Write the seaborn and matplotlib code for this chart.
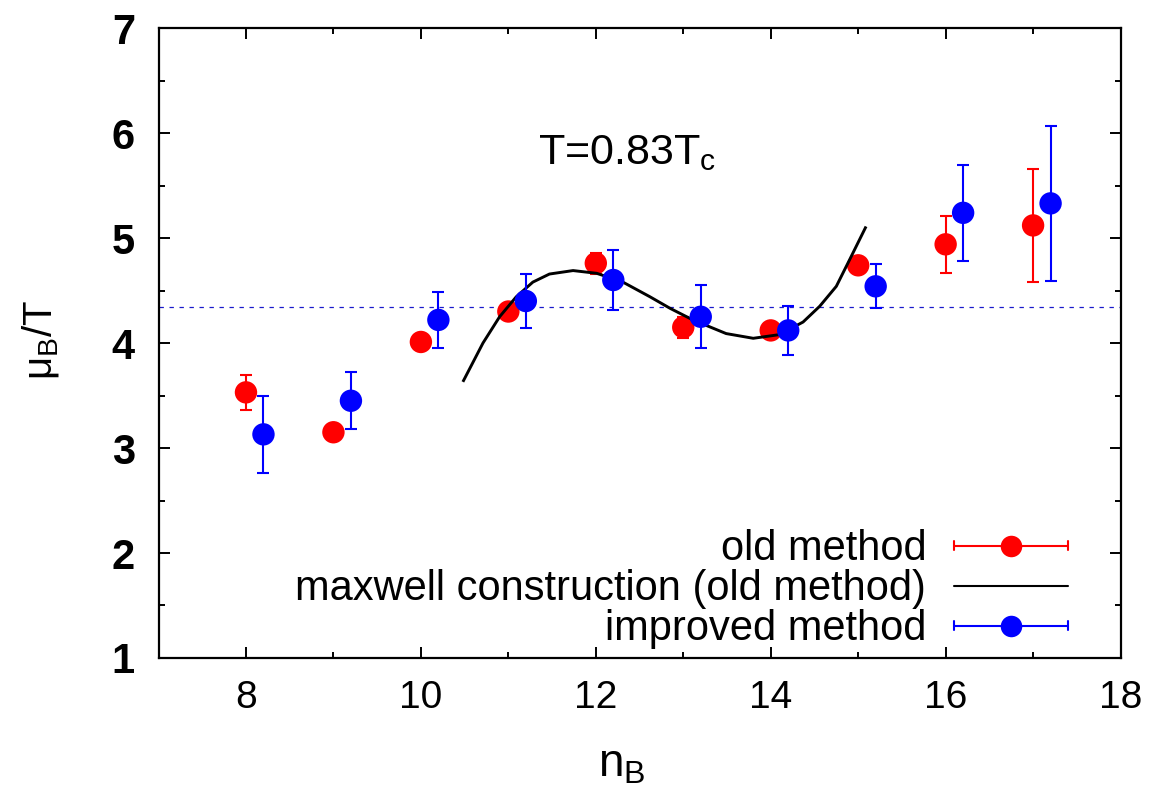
import numpy as np
import pandas as pd
import matplotlib
matplotlib.use("Agg")
import matplotlib.pyplot as plt
import seaborn as sns
from matplotlib.lines import Line2D
from matplotlib.legend_handler import HandlerBase

# ---------------- data ----------------
old_x = [8, 9, 10, 11, 12, 13, 14, 15, 16, 17]
old_y = [3.53, 3.15, 4.01, 4.30, 4.76, 4.15, 4.12, 4.74, 4.94, 5.12]
old_err = [0.17, 0.03, 0.03, 0.04, 0.10, 0.10, 0.04, 0.04, 0.27, 0.54]

imp_x = [8.2, 9.2, 10.2, 11.2, 12.2, 13.2, 14.2, 15.2, 16.2, 17.2]
imp_y = [3.13, 3.45, 4.22, 4.40, 4.60, 4.25, 4.12, 4.54, 5.24, 5.33]
imp_err = [0.37, 0.27, 0.27, 0.26, 0.29, 0.30, 0.23, 0.21, 0.46, 0.74]

curve_x = [10.48, 10.71, 10.90, 11.09, 11.28, 11.47, 11.74, 12.01, 12.31,
           12.62, 12.85, 13.11, 13.49, 13.80, 14.10, 14.37, 14.56, 14.75,
           14.90, 15.09]
curve_y = [3.63, 4.00, 4.25, 4.44, 4.58, 4.657, 4.69, 4.664, 4.58,
           4.44, 4.33, 4.22, 4.09, 4.045, 4.08, 4.20, 4.35, 4.54,
           4.79, 5.11]

maxwell_level = 4.34
label_text = r"T=0.83T$_\mathregular{c}$"
legend_labels = ["old method", "maxwell construction (old method)", "improved method"]
x_ticks = [8, 10, 12, 14, 16, 18]
y_ticks = [1, 2, 3, 4, 5, 6, 7]

# ---------------- style ----------------
sns.set_theme(style="ticks")
plt.rcParams["font.family"] = ["Liberation Sans", "DejaVu Sans"]
plt.rcParams["mathtext.fontset"] = "custom"
plt.rcParams["mathtext.rm"] = "Liberation Sans"
plt.rcParams["mathtext.it"] = "Liberation Sans:italic"
for k in ["text.color", "axes.labelcolor", "xtick.color", "ytick.color",
          "axes.edgecolor"]:
    plt.rcParams[k] = "black"

RED = "#ff0000"
BLUE = "#0000ff"

fig = plt.figure(figsize=(11.52, 7.92), dpi=100)
ax = fig.add_axes([0.1376, 0.1692, 0.9727 - 0.1376, 0.9646 - 0.1692])

df_old = pd.DataFrame({"n": old_x, "mu": old_y, "err": old_err})
df_imp = pd.DataFrame({"n": imp_x, "mu": imp_y, "err": imp_err})
df_curve = pd.DataFrame({"n": curve_x, "mu": curve_y})

ax.axhline(maxwell_level, color="#1a1acc", lw=0.9, ls=(0, (3.5, 4.5)), zorder=1)

ax.errorbar(df_old["n"], df_old["mu"], yerr=df_old["err"], fmt="none",
            ecolor=RED, elinewidth=1.5, capsize=4.5, capthick=1.5, zorder=2)
sns.scatterplot(data=df_old, x="n", y="mu", ax=ax, color=RED, s=260,
                edgecolor="none", linewidth=0, zorder=3, legend=False)
sns.lineplot(data=df_curve, x="n", y="mu", ax=ax, color="black", lw=2.1,
             sort=False, estimator=None, zorder=4, legend=False,
             solid_joinstyle="round", solid_capstyle="butt")
ax.errorbar(df_imp["n"], df_imp["mu"], yerr=df_imp["err"], fmt="none",
            ecolor=BLUE, elinewidth=1.5, capsize=4.5, capthick=1.5, zorder=5)
sns.scatterplot(data=df_imp, x="n", y="mu", ax=ax, color=BLUE, s=260,
                edgecolor="none", linewidth=0, zorder=6, legend=False)

ax.set_xlim(7, 18)
ax.set_ylim(1, 7)
ax.set_xticks(x_ticks)
ax.set_xticks(np.arange(7, 18.5, 1), minor=True)
ax.set_yticks(y_ticks)
ax.set_yticks(np.arange(1, 7.01, 0.5), minor=True)
ax.tick_params(which="both", direction="in", top=True, right=True,
               color="black", width=1.4)
ax.tick_params(which="major", length=8)
ax.tick_params(which="minor", length=4.5)
ax.tick_params(axis="x", which="major", pad=16)
ax.tick_params(axis="y", which="major", pad=17)
for s in ax.spines.values():
    s.set_linewidth(1.6)
    s.set_color("black")

for lab in ax.get_xticklabels():
    lab.set_fontsize(28)
for lab in ax.get_yticklabels():
    lab.set_fontweight("bold")
    lab.set_fontsize(30)

ax.set_xlabel(r"$\mathregular{n_B}$", fontsize=33, va="center")
ax.xaxis.set_label_coords((622 - 158.5) / 962, (658 - 765) / 630)
ax.set_ylabel(r"$\mathregular{\mu_B/T}$", fontsize=29, va="center")
ax.yaxis.set_label_coords((40 - 158.5) / 962, (658 - 340) / 630)

ax.text(11.34, 5.70, label_text, fontsize=31, ha="left", va="baseline")


# ---------------- legend ----------------
class HErr(HandlerBase):
    def __init__(self, color, marker):
        super().__init__()
        self.color = color
        self.marker = marker

    def create_artists(self, legend, orig_handle, xdescent, ydescent,
                       width, height, fontsize, trans):
        y = height / 2 - ydescent
        x0 = -xdescent
        x1 = width - xdescent
        arts = [Line2D([x0, x1], [y, y], color=self.color, lw=1.5, transform=trans)]
        if self.marker:
            c = 3.2
            arts.append(Line2D([x0, x0], [y - c, y + c], color=self.color, lw=1.5, transform=trans))
            arts.append(Line2D([x1, x1], [y - c, y + c], color=self.color, lw=1.5, transform=trans))
            arts.append(Line2D([x0 + 0.5 * width], [y], marker="o", ms=15.5,
                               color=self.color, mec="none", ls="none", transform=trans))
        return arts


h_old = Line2D([], [], color=RED)
h_max = Line2D([], [], color="black")
h_imp = Line2D([], [], color=BLUE)
leg = ax.legend([h_old, h_max, h_imp], legend_labels,
                handler_map={h_old: HErr(RED, True), h_max: HErr("black", False),
                             h_imp: HErr(BLUE, True)},
                loc="lower right", bbox_to_anchor=(0.9454, 0.014), frameon=False,
                markerfirst=False, fontsize=30, handlelength=2.73,
                handletextpad=0.67, labelspacing=0.0, borderpad=0,
                borderaxespad=0.0)
for t in leg.get_texts():
    t.set_ha("right")
leg._legend_box.align = "right"

fig.savefig("out.png", dpi=100)
